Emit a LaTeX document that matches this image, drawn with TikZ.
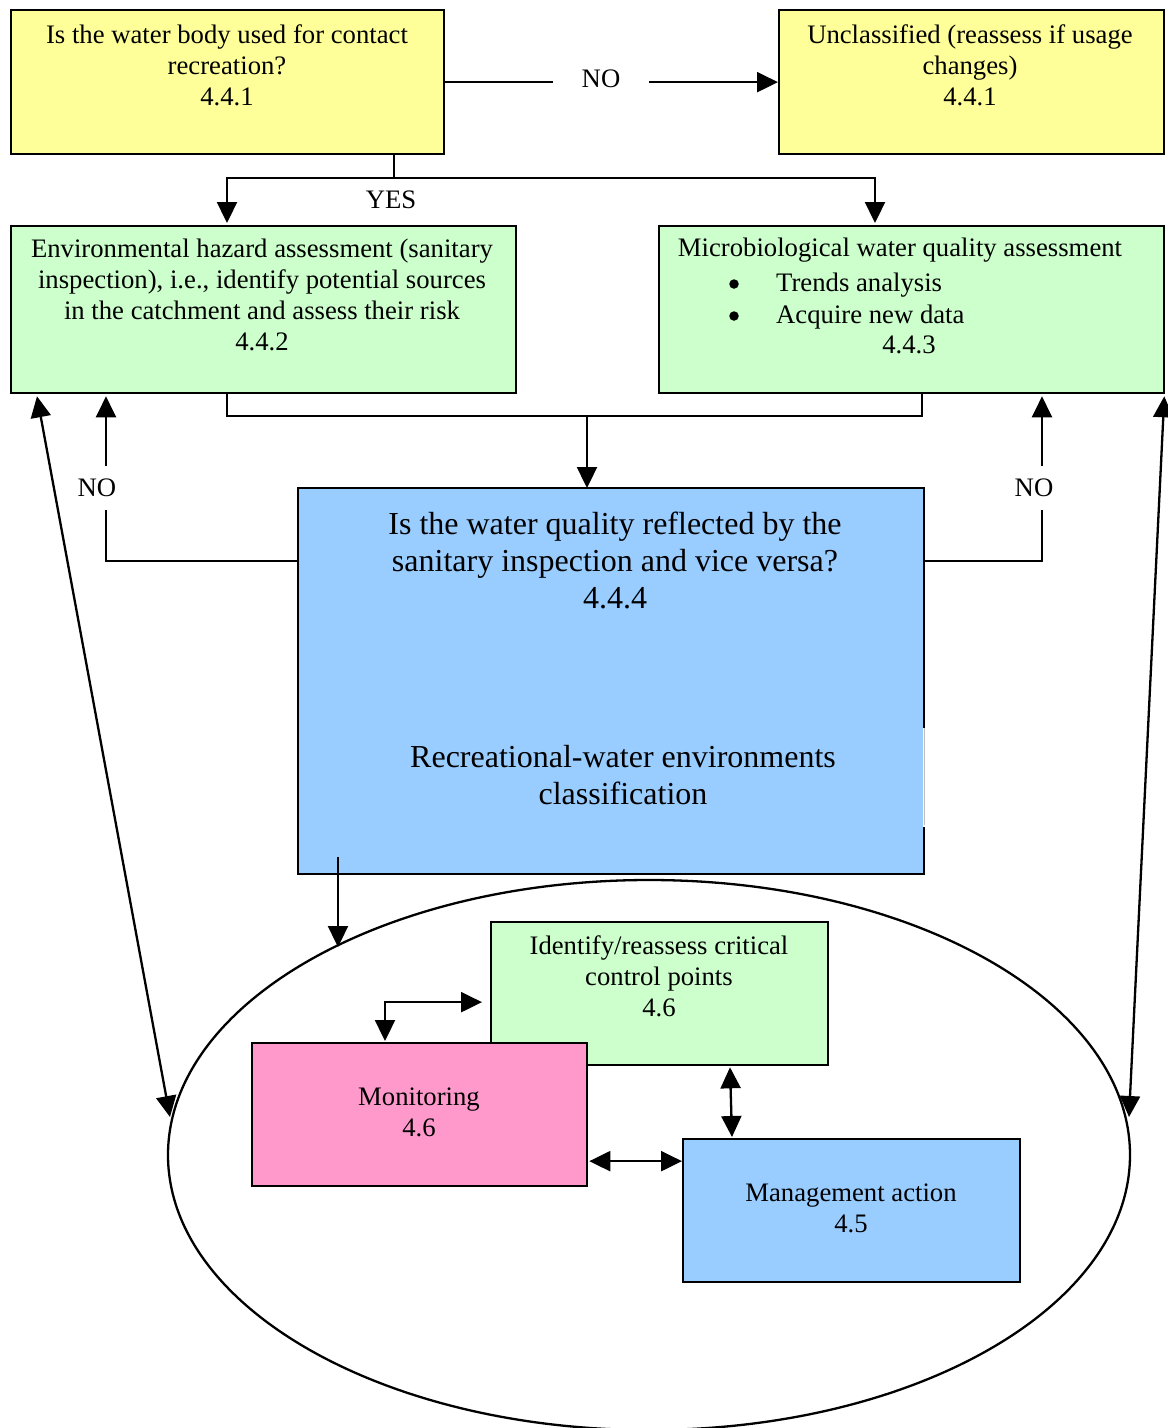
\documentclass[tikz,border=0pt]{standalone}
\usepackage{fontspec}
\setmainfont{Liberation Serif}
\usetikzlibrary{shapes.geometric, arrows.meta, positioning, calc}

\definecolor{askyellow}{HTML}{FFFF99}
\definecolor{assessgreen}{HTML}{CCFFCC}
\definecolor{classblue}{HTML}{99CCFF}
\definecolor{monpink}{HTML}{FF99CC}
\newcommand{\boxfont}{\fontsize{26.7}{31}\selectfont}
\newcommand{\bigboxfont}{\fontsize{32}{37}\selectfont}

\begin{document}
\begin{tikzpicture}[
      x=1pt, y=-1pt,
      box/.style={rectangle, draw, line width=2.3pt, anchor=north west, inner sep=0pt},
      txt/.style={align=center, font=\boxfont, inner sep=0pt},
      dot/.style={circle, fill, minimum size=9.5pt, inner sep=0pt},
      lbl/.style={font=\boxfont, fill=white, inner xsep=29pt, inner ysep=13pt},
      line/.style={line width=2.3pt},
      arrow/.style={-{Triangle[length=21pt,width=20pt]}, line width=2.3pt},
      biarrow/.style={{Triangle[length=21pt,width=20pt]}-{Triangle[length=21pt,width=20pt]}, line width=2.3pt}
    ]
    \useasboundingbox (0,0) rectangle (1168,1428);

    % top row
    \node[box, fill=askyellow, minimum width=433, minimum height=144] (usage) at (10,9) {};
    \node[txt] (usagetxt) at (227,65) {Is the water body used for contact\\recreation?\\4.4.1};
    \node[box, fill=askyellow, minimum width=385, minimum height=144] (uncl) at (778,9) {};
    \node[txt] (uncltxt) at (970,65) {Unclassified (reassess if usage\\changes)\\4.4.1};

    % assessments
    \node[box, fill=assessgreen, minimum width=505, minimum height=167] (env) at (10,225) {};
    \node[txt] (envtxt) at (262,295) {Environmental hazard assessment (sanitary\\inspection), i.e., identify potential sources\\in the catchment and assess their risk\\4.4.2};
    \node[box, fill=assessgreen, minimum width=505, minimum height=167] (micro) at (658,225) {};
    \node[txt] (microtxt) at (900,250) {Microbiological water quality assessment};
    \node[dot] (bulleta) at (734,284) {};
    \node[txt, anchor=west] (trends) at (776,285) {Trends analysis};
    \node[dot] (bulletb) at (734,316) {};
    \node[txt, anchor=west] (acquire) at (776,317) {Acquire new data};
    \node[txt] (micronum) at (909,345) {4.4.3};

    % classification
    \node[box, draw=none, fill=classblue, minimum width=624, minimum height=384] (cls) at (298,488) {};
    \draw[line] ($(cls.north east)+(0,240)$) -- (cls.north east) -- (cls.north west)
      -- (cls.south west) -- (cls.south east) -- ++(0,-47);
    \draw[gray!50, line width=0.8pt] ($(cls.north east)+(0,240)$) -- ++(0,97);
    \node[txt, font=\bigboxfont] (clsq) at (615,560) {Is the water quality reflected by the\\sanitary inspection and vice versa?\\4.4.4};
    \node[txt, font=\bigboxfont] (clsname) at (623,775) {Recreational-water environments\\classification};

    % management cycle
    \node[draw, ellipse, line width=2.3pt, minimum width=962, minimum height=550, inner sep=0pt] (cyc) at (649,1155) {};
    \node[box, fill=assessgreen, minimum width=337, minimum height=143] (ccp) at (490,921) {};
    \node[txt] (ccptxt) at (659,976) {Identify/reassess critical\\control points\\4.6};
    \node[box, fill=monpink, minimum width=335, minimum height=143] (mon) at (251,1042) {};
    \node[txt] (montxt) at (419,1112) {Monitoring\\4.6};
    \node[box, fill=classblue, minimum width=337, minimum height=143] (mgmt) at (682,1138) {};
    \node[txt] (mgmttxt) at (851,1208) {Management action\\4.5};

    % connectors
    \draw[arrow] (usage.east) -- (uncl.west);
    \node[lbl] (notop) at (601,79) {NO};

    \coordinate (split) at (394,178);
    \draw[line] ($(usage.south west)+(384,0)$) -- (split);
    \draw[arrow] (split) -| ($(env.north west)+(217,-2)$);
    \draw[arrow] (split) -| ($(micro.north west)+(217,-2)$);
    \node[txt] (yes) at (391,200) {YES};

    \coordinate (merge) at (587,416);
    \draw[line] ($(env.south west)+(217,0)$) |- (merge) -| ($(micro.south west)+(264,0)$);
    \draw[arrow] (merge) -- ($(cls.north west)+(289,0)$);

    \draw[arrow] ($(cls.north west)+(0,73)$) -| ($(env.south west)+(96,2)$);
    \node[lbl] (noleft) at (97,488) {NO};
    \draw[arrow] ($(cls.north east)+(0,73)$) -| ($(micro.south west)+(384,2)$);
    \node[lbl] (noright) at (1034,488) {NO};

    \coordinate (cycin) at (338,947);
    \coordinate (cycleft) at (170,1117);
    \coordinate (cycright) at (1129,1117);
    \draw[arrow] ($(cls.south west)+(40,-17)$) -- (cycin);
    \draw[biarrow] ($(env.south west)+(27,2)$) -- (cycleft);
    \draw[biarrow] ($(micro.south east)+(-1,2)$) -- (cycright);

    \draw[biarrow] ($(mon.north west)+(134,-1)$) |- ($(ccp.west)+(-8,8.5)$);
    \draw[biarrow] ($(ccp.south west)+(240,1)$) -- ($(mgmt.north west)+(50,-1)$);
    \draw[biarrow] ($(mon.east)+(1,46.5)$) -- ($(mgmt.west)+(0,-49.5)$);
  \end{tikzpicture}
\end{document}
